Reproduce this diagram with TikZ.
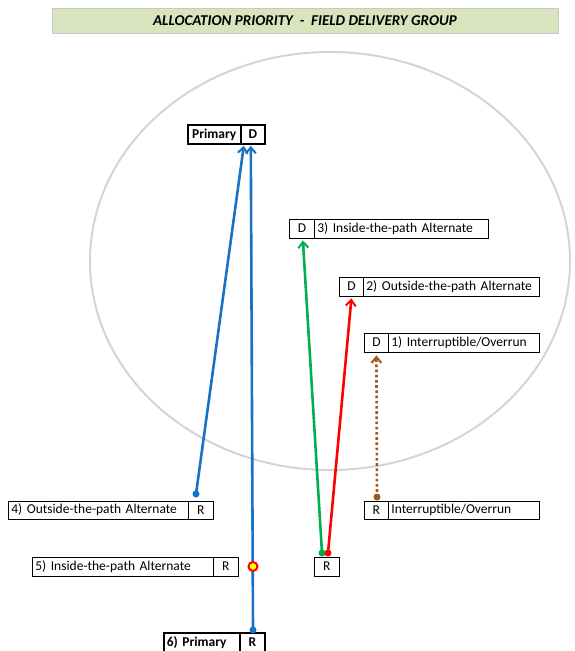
\documentclass[tikz,border=0pt]{standalone}
\usepackage{fontspec}
\setmainfont{Carlito}
\usetikzlibrary{arrows.meta,calc,shapes.geometric}
\definecolor{bannerfill}{HTML}{D7E4BD}
\definecolor{bannerline}{HTML}{C8C8C8}
\definecolor{ringgray}{HTML}{D4D4D4}
\definecolor{flowblue}{RGB}{25,115,196}
\definecolor{flowgreen}{HTML}{00B050}
\definecolor{flowred}{HTML}{FF0000}
\definecolor{flowbrown}{RGB}{160,88,28}
\definecolor{dotyellow}{HTML}{FFFF00}
\begin{document}
\begin{tikzpicture}[x=1pt,y=-1pt,
  cellfont/.style={font=\fontsize{13.5}{15}\selectfont},
  cell/.style={draw=black, line width=0.8pt, inner sep=0pt, minimum height=19pt, anchor=west, cellfont},
  txtcell/.style={cell, inner xsep=3pt, align=left},
  boldcell/.style={cell, line width=1.6pt, font=\fontsize{13.5}{15}\selectfont\bfseries},
  flow/.style={line width=2.6pt, -{Straight Barb[length=6pt,width=10pt,line width=2pt]}},
  startdot/.style={circle, fill, inner sep=0pt, minimum size=7pt}
]
\useasboundingbox (0,0) rectangle (574,651);
% banner
\node[draw=bannerline, fill=bannerfill, line width=0.8pt, minimum width=506pt, minimum height=25pt, inner sep=0pt,
  font=\fontsize{15}{17}\selectfont\bfseries\itshape] (title) at (305,20.5) {ALLOCATION PRIORITY\ \ -\ \ FIELD DELIVERY GROUP};
% ellipse
\node[draw=ringgray, line width=2pt, ellipse, minimum width=480pt, minimum height=418pt, inner sep=0pt] (ring) at (330,261) {};
% delivery boxes
\node[boldcell, minimum width=53pt] (pt) at (187,134.5) {Primary};
\node[boldcell, minimum width=24pt] (pd) at (240,134.5) {D};
\node[cell, minimum width=25pt] (d3) at (289,228.5) {D};
\node[txtcell, text width=168pt] (t3) at (314,228.5) {3) Inside-the-path Alternate};
\node[cell, minimum width=24pt] (d2) at (339,286.5) {D};
\node[txtcell, text width=170pt] (t2) at (363,286.5) {2) Outside-the-path Alternate};
\node[cell, minimum width=24pt] (d1) at (364,342.5) {D};
\node[txtcell, text width=145pt] (t1) at (388,342.5) {1) Interruptible/Overrun};
% receipt boxes
\node[txtcell, text width=174pt, minimum height=18pt] (t4) at (8,510) {4) Outside-the-path Alternate};
\node[cell, minimum width=25pt, minimum height=18pt] (r4) at (188,510) {R};
\node[txtcell, text width=175pt] (t5) at (32,566.5) {5) Inside-the-path Alternate};
\node[cell, minimum width=25pt] (r5) at (213,566.5) {R};
\node[cell, minimum width=25pt] (rx) at (314,566.5) {R};
\node[cell, minimum width=24pt, minimum height=18pt] (ri) at (364,510) {R};
\node[txtcell, text width=145pt, minimum height=18pt] (ti) at (388,510) {Interruptible/Overrun};
\node[txtcell, line width=1.6pt, font=\fontsize{13.5}{15}\selectfont\bfseries, text width=70pt] (t6) at (163,642.5) {6) Primary};
\node[boldcell, minimum width=25pt] (r6) at (239,642.5) {R};
% connector ends
\coordinate (s4) at (196,494);
\coordinate (s6) at (253,630);
\coordinate (sg) at (322,553);
\coordinate (sr) at (328,553);
\coordinate (sb) at (377,497);
\coordinate (e4) at ($(pd.south)+(-9,1)$);
\coordinate (e6) at ($(pd.south)+(-2,1)$);
% connectors
\draw[flow, flowblue] (s4) -- (e4);
\draw[flow, flowblue] (s6) -- (e6);
\draw[flow, flowgreen] (sg) -- ($(d3.south)+(1,2)$);
\draw[flow, flowred] (sr) -- ($(d2.south)+(0,2)$);
\draw[line width=2.6pt, flowbrown, dash pattern=on 2.6pt off 2.6pt, -{Straight Barb[length=6pt,width=10pt,line width=2pt]}] (sb) -- ($(d1.south)+(0,3)$);
\node[startdot, flowblue] (dot4) at (s4) {};
\node[startdot, flowblue] (dot6) at (s6) {};
\node[startdot, flowgreen] (dotg) at (sg) {};
\node[startdot, flowred] (dotr) at (sr) {};
\node[startdot, flowbrown] (dotb) at (sb) {};
\node[circle, draw=flowred, fill=dotyellow, line width=2pt, inner sep=0pt, minimum size=9pt] (mark5) at (253,566.5) {};
\end{tikzpicture}
\end{document}
